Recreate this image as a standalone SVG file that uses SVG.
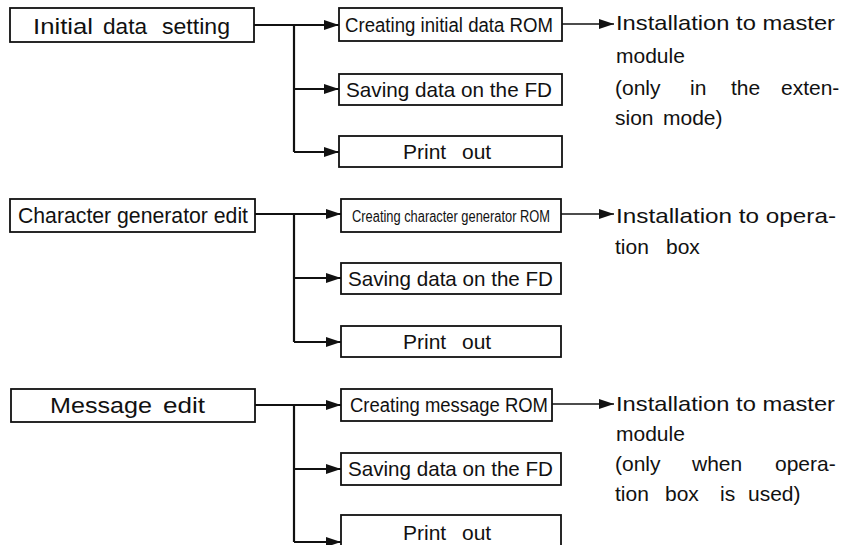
<svg xmlns="http://www.w3.org/2000/svg" width="841" height="545" viewBox="0 0 841 545">
  <defs>
    <marker id="arrow" markerUnits="userSpaceOnUse" markerWidth="16" markerHeight="11" refX="15" refY="5" orient="auto">
      <path d="M0,0 L15,5 L0,10 Z" fill="#111"/>
    </marker>
    <style>
      .box { fill: #fff; stroke: #111; stroke-width: 1.8; }
      .lbl { font-family: "Liberation Sans", "Noto Sans", sans-serif; font-size: 22px; fill: #111; }
      .sm { font-family: "Liberation Sans", "Noto Sans", sans-serif; font-size: 21px; fill: #111; }
      .cond { font-family: "Liberation Sans Narrow", "Liberation Sans", sans-serif; font-size: 20px; fill: #111; }
      .cond-s { font-family: "Liberation Sans Narrow", "Liberation Sans", sans-serif; font-size: 16px; fill: #111; }
      .note { font-family: "Liberation Sans", "Noto Sans", sans-serif; font-size: 21px; fill: #111; }
      .wire { fill: none; stroke: #111; stroke-width: 2.2; }
      .wire-a { fill: none; stroke: #111; stroke-width: 2.2; marker-end: url(#arrow); }
      .wire-t { fill: none; stroke: #111; stroke-width: 1.6; marker-end: url(#arrow); }
    </style>
  </defs>
  <rect width="841" height="545" fill="#fff"/>

  <!-- connectors -->
  <g id="connectors">
    <!-- group 1 -->
    <path class="wire-a" d="M254,25 H339"/>
    <path class="wire" d="M294,25 V152"/>
    <path class="wire-a" d="M294,89 H339"/>
    <path class="wire-a" d="M294,152 H339"/>
    <path class="wire-t" d="M562,24 H614"/>
    <!-- group 2 -->
    <path class="wire-a" d="M255,214 H341"/>
    <path class="wire" d="M294,214 V342"/>
    <path class="wire-a" d="M294,278 H341"/>
    <path class="wire-a" d="M294,342 H341"/>
    <path class="wire-t" d="M561,214 H614"/>
    <!-- group 3 -->
    <path class="wire-a" d="M255,405 H341"/>
    <path class="wire" d="M294,405 V542"/>
    <path class="wire-a" d="M294,469 H341"/>
    <path class="wire-a" d="M294,542 H341"/>
    <path class="wire-t" d="M552,404 H614"/>
  </g>

  <!-- group 1: initial data -->
  <g id="initial-data-setting">
    <rect class="box" x="10" y="8" width="244" height="34"/>
    <text class="lbl" x="33" y="34" textLength="60" lengthAdjust="spacingAndGlyphs">Initial</text>
    <text class="lbl" x="103" y="34" textLength="44" lengthAdjust="spacingAndGlyphs">data</text>
    <text class="lbl" x="162" y="34" textLength="68" lengthAdjust="spacingAndGlyphs">setting</text>
  </g>
  <g id="creating-initial-rom">
    <rect class="box" x="339" y="8" width="223" height="33"/>
    <text class="cond" x="345" y="32" textLength="208" lengthAdjust="spacingAndGlyphs">Creating initial data ROM</text>
  </g>
  <g id="saving-fd-1">
    <rect class="box" x="339" y="74" width="223" height="31"/>
    <text class="sm" x="346" y="97" textLength="206" lengthAdjust="spacingAndGlyphs">Saving data on the FD</text>
  </g>
  <g id="print-out-1">
    <rect class="box" x="339" y="136" width="223" height="31"/>
    <text class="sm" x="403" y="159">Print</text>
    <text class="sm" x="462" y="159">out</text>
  </g>
  <g id="note-1">
    <text class="note" x="616" y="30" textLength="219" lengthAdjust="spacingAndGlyphs">Installation to master</text>
    <text class="note" x="616" y="63">module</text>
    <text class="note" x="615" y="95">(only</text>
    <text class="note" x="690" y="95">in</text>
    <text class="note" x="731" y="95">the</text>
    <text class="note" x="781" y="95">exten-</text>
    <text class="note" x="615" y="125">sion</text>
    <text class="note" x="663" y="125">mode)</text>
  </g>

  <!-- group 2: character generator -->
  <g id="character-generator-edit">
    <rect class="box" x="10" y="199" width="245" height="33"/>
    <text class="lbl" x="18" y="223" textLength="230" lengthAdjust="spacingAndGlyphs">Character generator edit</text>
  </g>
  <g id="creating-cg-rom">
    <rect class="box" x="341" y="199" width="220" height="33"/>
    <text class="cond-s" x="352" y="222" textLength="198" lengthAdjust="spacingAndGlyphs">Creating character generator ROM</text>
  </g>
  <g id="saving-fd-2">
    <rect class="box" x="341" y="263" width="220" height="31"/>
    <text class="sm" x="348" y="286" textLength="205" lengthAdjust="spacingAndGlyphs">Saving data on the FD</text>
  </g>
  <g id="print-out-2">
    <rect class="box" x="341" y="326" width="220" height="31"/>
    <text class="sm" x="403" y="349">Print</text>
    <text class="sm" x="462" y="349">out</text>
  </g>
  <g id="note-2">
    <text class="note" x="616" y="223" textLength="220" lengthAdjust="spacingAndGlyphs">Installation to opera-</text>
    <text class="note" x="615" y="254">tion</text>
    <text class="note" x="666" y="254">box</text>
  </g>

  <!-- group 3: message -->
  <g id="message-edit">
    <rect class="box" x="11" y="389" width="244" height="33"/>
    <text class="lbl" x="50" y="413" textLength="102" lengthAdjust="spacingAndGlyphs">Message</text>
    <text class="lbl" x="163" y="413" textLength="42" lengthAdjust="spacingAndGlyphs">edit</text>
  </g>
  <g id="creating-message-rom">
    <rect class="box" x="341" y="389" width="211" height="32"/>
    <text class="cond" x="350" y="412" textLength="198" lengthAdjust="spacingAndGlyphs">Creating message ROM</text>
  </g>
  <g id="saving-fd-3">
    <rect class="box" x="341" y="453" width="220" height="32"/>
    <text class="sm" x="348" y="476" textLength="205" lengthAdjust="spacingAndGlyphs">Saving data on the FD</text>
  </g>
  <g id="print-out-3">
    <rect class="box" x="341" y="515" width="220" height="40"/>
    <text class="sm" x="403" y="540">Print</text>
    <text class="sm" x="462" y="540">out</text>
  </g>
  <g id="note-3">
    <text class="note" x="616" y="411" textLength="219" lengthAdjust="spacingAndGlyphs">Installation to master</text>
    <text class="note" x="616" y="441">module</text>
    <text class="note" x="615" y="471">(only</text>
    <text class="note" x="692" y="471">when</text>
    <text class="note" x="775" y="471">opera-</text>
    <text class="note" x="615" y="501">tion</text>
    <text class="note" x="665" y="501">box</text>
    <text class="note" x="720" y="501">is</text>
    <text class="note" x="748" y="501">used)</text>
  </g>
</svg>
